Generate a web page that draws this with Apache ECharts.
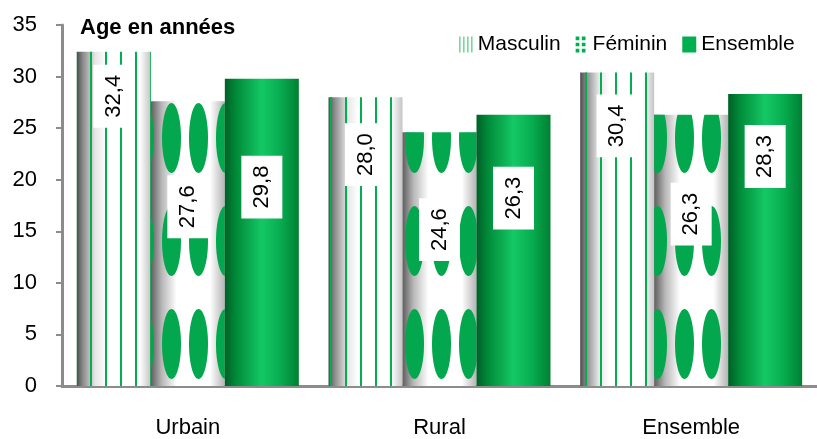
<!DOCTYPE html>
<html>
<head>
<meta charset="utf-8">
<script src="https://cdn.jsdelivr.net/npm/echarts@6/dist/echarts.min.js"></script>
<style>
  html, body { margin: 0; padding: 0; background: #fff; }
  #chart { width: 817px; height: 439px; }
</style>
</head>
<body>
<div id="chart"></div>
<script>
const categories = ['Urbain', 'Rural', 'Ensemble']
const seriesNames = ['Masculin', 'Féminin', 'Ensemble']
const masculin = [32.4, 28.0, 30.4]
const feminin = [27.6, 24.6, 26.3]
const ensemble = [29.8, 26.3, 28.3]

// how far (px) below the top of each bar the white value box starts
const labelDy = {
  masculin: [13, 26, 22],
  feminin: [74, 66, 68],
  ensemble: [77, 52, 31]
}

const FONT = 'Liberation Sans'
const GREEN = '#00B050'
// bezier ellipse so the decal can stretch it (builtin circle stays round)
const ELLIPSE = 'path://M50,0 C77.6,0 100,22.4 100,50 C100,77.6 77.6,100 50,100 C22.4,100 0,77.6 0,50 C0,22.4 22.4,0 50,0 Z'

function hGrad(stops) {
  return {
    type: 'linear', x: 0, y: 0, x2: 1, y2: 0,
    colorStops: stops.map(s => ({ offset: s[0], color: s[1] }))
  }
}

const fmt = p => p.value.toFixed(1).replace('.', ',')

function makeData(values, dys) {
  return values.map((v, i) => ({
    value: v,
    label: { position: ['50%', dys[i]] }
  }))
}

const valueLabel = {
  show: true,
  rotate: 90,
  align: 'right',
  verticalAlign: 'middle',
  formatter: fmt,
  fontFamily: FONT,
  fontSize: 22,
  lineHeight: 22,
  color: '#000',
  backgroundColor: '#fff',
  padding: [9, 10, 10, 10]
}

// legend icons should not get the bar patterns
const noDecal = { symbol: 'rect', color: 'rgba(0,0,0,0)', dashArrayX: [1, 0], dashArrayY: [1, 0] }

let chart = echarts.init(document.getElementById('chart'), null, { renderer: 'canvas' })

let option = {
  animation: false,
  title: {
    text: 'Age en années',
    left: 75,
    top: 12,
    textStyle: { fontFamily: FONT, fontSize: 22, fontWeight: 'bold', color: '#000' }
  },
  legend: {
    left: 454,
    top: 29,
    itemWidth: 14,
    itemHeight: 16,
    itemGap: 15,
    textStyle: { fontFamily: FONT, fontSize: 21, color: '#000' },
    data: [{
      name: seriesNames[0],
      icon: 'path://M0,0h1.6v16h-1.6z M4,0h1.6v16h-1.6z M8,0h1.6v16h-1.6z M12,0h1.6v16h-1.6z',
      itemStyle: { color: '#7ad69c', decal: noDecal }
    }, {
      name: seriesNames[1],
      icon: 'path://M0,0h3v3h-3z M5,0h3v3h-3z M0,5h3v3h-3z M5,5h3v3h-3z M0,10h3v3h-3z M5,10h3v3h-3z',
      itemStyle: { color: GREEN, decal: noDecal }
    }, {
      name: seriesNames[2],
      icon: 'rect',
      itemStyle: { color: GREEN, decal: noDecal }
    }]
  },
  grid: {
    left: 62,
    top: 25,
    width: 763.5,
    bottom: 52
  },
  xAxis: {
    type: 'category',
    data: categories,
    axisLine: { lineStyle: { color: '#8c8c8c', width: 3 } },
    axisTick: { length: 6, lineStyle: { color: '#8c8c8c', width: 2 } },
    axisLabel: { margin: 31, fontFamily: FONT, fontSize: 22, color: '#000' }
  },
  yAxis: {
    type: 'value',
    min: 0,
    max: 35,
    interval: 5,
    splitLine: { show: false },
    axisLine: { show: true, lineStyle: { color: '#8c8c8c', width: 3 } },
    axisTick: { show: true, length: 6, lineStyle: { color: '#8c8c8c', width: 2 } },
    axisLabel: { margin: 25, fontFamily: FONT, fontSize: 22, color: '#000' }
  },
  series: [{
    name: seriesNames[0],
    type: 'bar',
    barWidth: 74,
    barGap: '0%',
    data: makeData(masculin, labelDy.masculin),
    label: valueLabel,
    itemStyle: {
      color: hGrad([[0, '#4d4d4d'], [0.08, '#8a8a8a'], [0.25, '#e6e6e6'], [0.4, '#ffffff'],
        [0.85, '#ffffff'], [1, '#c4c4c4']]),
      decal: {
        symbol: 'rect',
        symbolSize: 1,
        color: GREEN,
        dashArrayX: [2, 13],
        dashArrayY: [10, 0]
      }
    }
  }, {
    name: seriesNames[1],
    type: 'bar',
    barWidth: 74,
    barGap: '0%',
    data: makeData(feminin, labelDy.feminin),
    label: valueLabel,
    itemStyle: {
      color: hGrad([[0, '#5e5e5e'], [0.15, '#b8b8b8'], [0.35, '#ffffff'],
        [0.8, '#ffffff'], [1, '#b4b4b4']]),
      decal: {
        symbol: ELLIPSE,
        symbolSize: 1,
        symbolKeepAspect: false,
        color: '#03a84e',
        dashArrayX: [19, 8],
        dashArrayY: [70, 33]
      }
    }
  }, {
    name: seriesNames[2],
    type: 'bar',
    barWidth: 74,
    barGap: '0%',
    data: makeData(ensemble, labelDy.ensemble),
    label: valueLabel,
    itemStyle: {
      color: hGrad([[0, '#005f27'], [0.15, '#008a38'], [0.5, '#14c865'], [0.75, '#07ad50'], [1, '#007f33']])
    }
  }]
}

chart.setOption(option)
</script>
</body>
</html>
